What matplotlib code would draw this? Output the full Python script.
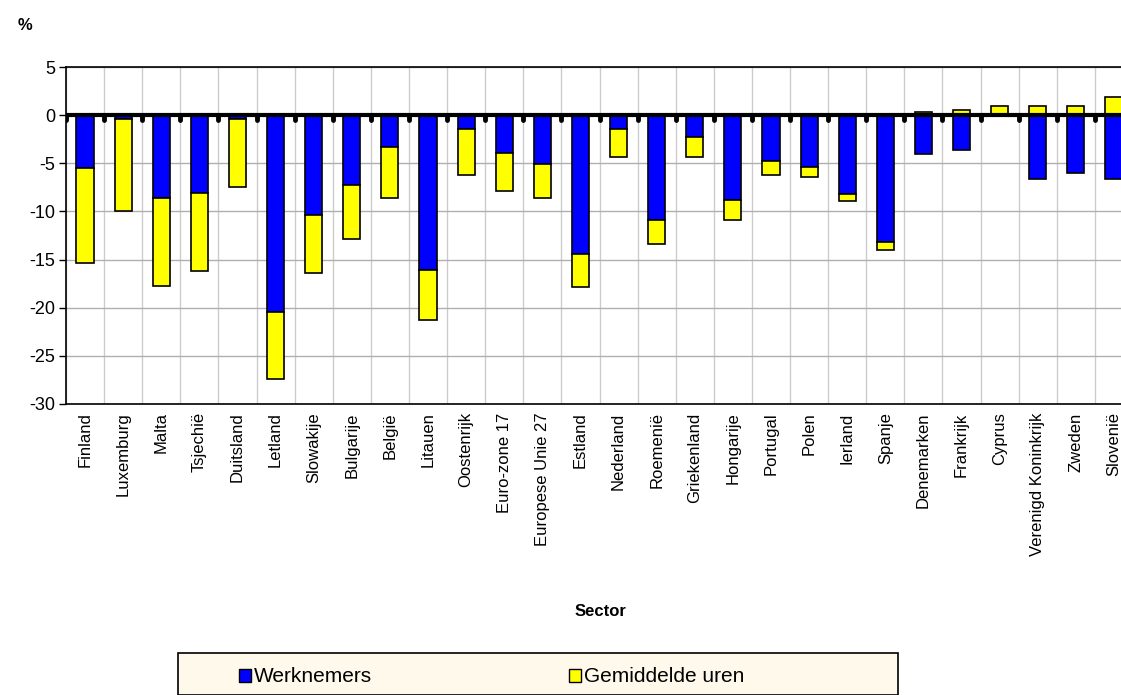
"""
Werknemers en gemiddelde uren per land, gestapelde staafgrafiek
"""
import numpy as np
import matplotlib
matplotlib.use('Agg')
import matplotlib.pyplot as plt
from matplotlib.patches import Rectangle

plt.rcParams['font.family'] = ['Liberation Sans', 'DejaVu Sans']

countries = ["Finland", "Luxemburg", "Malta", "Tsjechië", "Duitsland", "Letland",
             "Slowakije", "Bulgarije", "België", "Litauen", "Oostenrijk",
             "Euro-zone 17", "Europese Unie 27", "Estland", "Nederland", "Roemenië",
             "Griekenland", "Hongarije", "Portugal", "Polen", "Ierland", "Spanje",
             "Denemarken", "Frankrijk", "Cyprus", "Verenigd Koninkrijk", "Zweden",
             "Slovenië"]
werknemers = [-5.5, -0.4, -8.6, -8.05, -0.4, -20.45, -10.4, -7.25, -3.35, -16.1,
              -1.45, -3.95, -5.1, -14.4, -1.4, -10.9, -2.25, -8.8, -4.75, -5.35,
              -8.2, -13.2, -4.0, -3.65, 0.0, -6.6, -6.0, -6.6]
uren = [-9.9, -9.6, -9.1, -8.15, -7.1, -7.0, -6.0, -5.65, -5.3, -5.15,
        -4.8, -3.9, -3.5, -3.4, -2.95, -2.5, -2.1, -2.1, -1.45, -1.1,
        -0.75, -0.8, 0.3, 0.5, 0.9, 0.9, 0.9, 1.9]
yticks = [-30, -25, -20, -15, -10, -5, 0, 5]

BLUE = '#0000FF'
YELLOW = '#FFFF00'

fig = plt.figure(figsize=(11.21, 6.95), dpi=100)
ax = fig.add_axes([66 / 1121, 1 - 404 / 695, (1133 - 66) / 1121, (404 - 67) / 695])

x = np.arange(len(countries))
w = np.array(werknemers)
u = np.array(uren)
# Excel-achtige stapeling: positief op positief, negatief op negatief
u_bottom = np.where(u >= 0, np.maximum(w, 0), np.minimum(w, 0))

bw = 0.45
ax.bar(x, w, bw, color=BLUE, edgecolor='black', linewidth=1.2, zorder=2)
ax.bar(x, u, bw, bottom=u_bottom, color=YELLOW, edgecolor='black', linewidth=1.2, zorder=2)

ax.set_xlim(-0.5, len(countries) - 0.5)
ax.set_ylim(-30, 5)
ax.set_yticks(yticks)
ax.set_yticklabels([str(t) for t in yticks], fontsize=13)
ax.tick_params(axis='y', direction='out', length=5, width=1, color='black', pad=3)

ax.set_xticks(x)
ax.set_xticklabels(countries, rotation=90, fontsize=12, va='top')
ax.set_xticks(np.arange(len(countries) + 1) - 0.5, minor=True)
ax.tick_params(axis='x', which='both', length=0, pad=6)

ax.grid(axis='y', which='major', color='#B0B0B0', linewidth=1, zorder=0)
ax.grid(axis='x', which='minor', color='#CCCCCC', linewidth=1, zorder=0)
ax.set_axisbelow(True)

for side in ['top', 'left', 'bottom']:
    ax.spines[side].set_color('black')
    ax.spines[side].set_linewidth(1.2)
ax.spines['right'].set_visible(False)

# nul-as met kleine streepjes op de categoriegrenzen
ax.axhline(0, color='black', linewidth=3, zorder=3)
ax.vlines(np.arange(len(countries)) - 0.5, -0.5, 0, color='black', linewidth=3.5,
          capstyle='round', zorder=3)

fig.text(18 / 1121, 1 - 25 / 695, '%', fontsize=12, fontweight='bold', va='center')
fig.text(600 / 1121, 1 - 612 / 695, 'Sector', fontsize=12, fontweight='bold',
         ha='center', va='center')

# legenda
box = Rectangle((178 / 1121, 0), 720 / 1121, 42 / 695, transform=fig.transFigure,
                facecolor='#FFF9EC', edgecolor='black', linewidth=1.2)
fig.add_artist(box)
ly = 1 - 676 / 695
for hx, col, label in [(239, BLUE, 'Werknemers'), (569, YELLOW, 'Gemiddelde uren')]:
    fig.add_artist(Rectangle((hx / 1121, ly - 6 / 695), 12 / 1121, 13 / 695,
                             transform=fig.transFigure, facecolor=col,
                             edgecolor='black', linewidth=1))
    fig.text((hx + 15) / 1121, ly, label, fontsize=15, va='center')

plt.savefig('out.png', dpi=100)
